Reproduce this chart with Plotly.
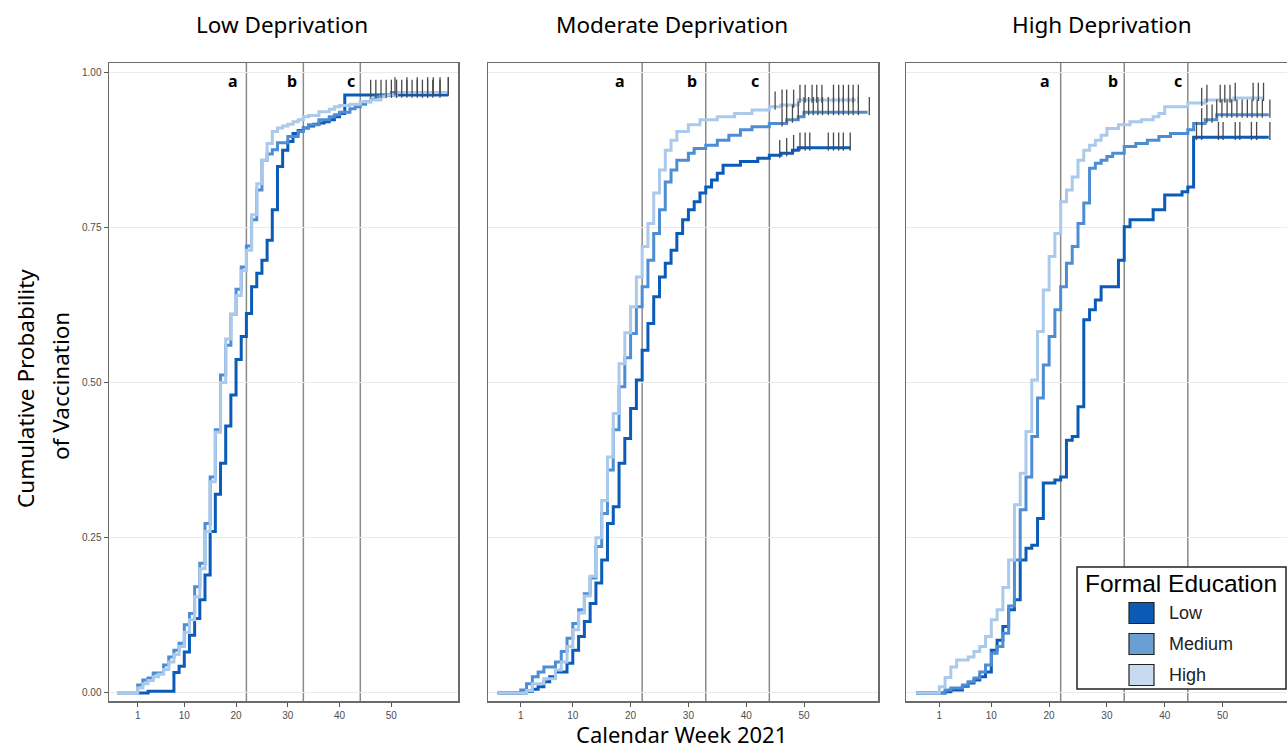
import numpy as np
import plotly.graph_objects as go

# ---------------- data ----------------
panel_titles = ["Low Deprivation", "Moderate Deprivation", "High Deprivation"]
education_levels = ["Low", "Medium", "High"]
x_tick_vals = [1, 10, 20, 30, 40, 50]
y_tick_vals = [0, 0.25, 0.5, 0.75, 1.0]
y_tick_text = ["0.00", "0.25", "0.50", "0.75", "1.00"]
period_weeks = [22, 33, 44]
period_labels = ["a", "b", "c"]

# Low Deprivation panel
ld_low_weeks = [1, 3, 8, 9, 10, 11, 12, 13, 14, 15, 16, 17, 18, 19, 20, 21, 22, 23, 24, 25, 26, 27, 28, 29, 30, 31, 32, 33, 34, 35, 36, 37, 38, 39, 40, 41, 61]
ld_low_prob = [0, 0.003, 0.033, 0.043, 0.066, 0.093, 0.12, 0.15, 0.19, 0.26, 0.32, 0.37, 0.43, 0.48, 0.537, 0.574, 0.611, 0.654, 0.676, 0.697, 0.729, 0.778, 0.848, 0.874, 0.888, 0.901, 0.906, 0.91, 0.913, 0.916, 0.918, 0.92, 0.923, 0.928, 0.933, 0.963, 0.963]
ld_med_weeks = [-3, 1, 2, 3, 4, 6, 7, 8, 9, 10, 11, 12, 13, 14, 15, 16, 17, 18, 19, 20, 21, 22, 23, 24, 25, 26, 27, 28, 30, 32, 33, 34, 36, 38, 39, 40, 42, 43, 44, 45, 46, 47, 48, 50, 61]
ld_med_prob = [0, 0.013, 0.021, 0.024, 0.032, 0.045, 0.058, 0.069, 0.08, 0.11, 0.128, 0.171, 0.209, 0.273, 0.348, 0.424, 0.512, 0.56, 0.61, 0.65, 0.686, 0.72, 0.762, 0.81, 0.858, 0.868, 0.875, 0.886, 0.896, 0.904, 0.91, 0.915, 0.923, 0.928, 0.931, 0.935, 0.941, 0.944, 0.948, 0.952, 0.956, 0.96, 0.963, 0.967, 0.967]
ld_high_weeks = [-3, 1, 2, 3, 4, 5, 6, 7, 8, 9, 10, 11, 12, 13, 14, 15, 16, 17, 18, 19, 20, 21, 22, 23, 24, 25, 26, 27, 28, 29, 30, 31, 32, 33, 34, 36, 38, 39, 40, 42, 44, 46, 48, 49, 51, 61]
ld_high_prob = [0, 0.008, 0.015, 0.02, 0.026, 0.03, 0.038, 0.05, 0.062, 0.075, 0.098, 0.118, 0.155, 0.2, 0.26, 0.34, 0.42, 0.5, 0.57, 0.61, 0.64, 0.68, 0.713, 0.77, 0.82, 0.858, 0.885, 0.904, 0.91, 0.913, 0.916, 0.92, 0.923, 0.928, 0.93, 0.936, 0.94, 0.944, 0.946, 0.948, 0.952, 0.955, 0.96, 0.963, 0.967, 0.967]
ld_low_censor = [46, 47, 48, 49, 50, 51, 52, 53, 54, 55, 56, 57, 58, 59.4]
ld_med_censor = [50.7, 53, 55, 57, 58.1, 61]
ld_high_censor = [59.4, 61]

# Moderate Deprivation panel
md_low_weeks = [-3, 2, 3, 4, 5, 6, 7, 9, 10, 11, 12, 13, 14, 15, 16, 17, 18, 19, 20, 21, 22, 23, 24, 25, 26, 27, 28, 29, 30, 31, 32, 33, 34, 35, 36, 39, 42, 44, 46, 48, 49, 58]
md_low_prob = [0, 0.003, 0.006, 0.01, 0.018, 0.026, 0.034, 0.048, 0.069, 0.091, 0.115, 0.144, 0.177, 0.214, 0.273, 0.30, 0.37, 0.41, 0.458, 0.504, 0.552, 0.595, 0.638, 0.67, 0.692, 0.713, 0.74, 0.762, 0.778, 0.791, 0.805, 0.815, 0.826, 0.837, 0.85, 0.856, 0.861, 0.866, 0.869, 0.874, 0.878, 0.878]
md_med_weeks = [-3, 1, 2, 3, 4, 5, 7, 8, 9, 10, 11, 12, 13, 14, 15, 16, 17, 18, 19, 20, 21, 22, 23, 24, 25, 26, 27, 28, 30, 31, 33, 35, 37, 39, 41, 44, 47, 49, 50, 61]
md_med_prob = [0, 0.005, 0.015, 0.026, 0.034, 0.042, 0.05, 0.067, 0.088, 0.112, 0.134, 0.16, 0.185, 0.236, 0.289, 0.359, 0.424, 0.493, 0.54, 0.579, 0.622, 0.654, 0.697, 0.74, 0.778, 0.823, 0.842, 0.858, 0.869, 0.877, 0.882, 0.89, 0.898, 0.907, 0.912, 0.917, 0.923, 0.928, 0.935, 0.935]
md_high_weeks = [-3, 2, 3, 5, 7, 8, 9, 10, 11, 12, 13, 14, 15, 16, 17, 18, 19, 20, 21, 22, 23, 24, 25, 26, 27, 28, 30, 32, 35, 38, 41, 44, 46, 49, 59]
md_high_prob = [0, 0.004, 0.015, 0.023, 0.037, 0.05, 0.075, 0.102, 0.129, 0.156, 0.188, 0.25, 0.31, 0.38, 0.45, 0.53, 0.58, 0.622, 0.67, 0.719, 0.756, 0.805, 0.842, 0.874, 0.89, 0.904, 0.915, 0.923, 0.928, 0.933, 0.939, 0.944, 0.947, 0.955, 0.955]
md_low_censor = [45.8, 47, 48.2, 49.3, 50.2, 51, 54.2, 55.1, 56, 56.8, 58]
md_med_censor = [46.2, 47, 48, 49, 50, 50.8, 51.6, 52.4, 53.2, 54.2, 55.1, 56, 56.8, 57.7, 58.5, 59.4, 61.3]
md_high_censor = [45, 46.2, 47, 48.2, 49.3, 50.2, 51.4, 52.2, 53.1, 55.1, 56, 56.8, 57.7, 58.5, 59.4]

# High Deprivation panel
hd_low_weeks = [-3, 2, 3, 5, 6, 7, 8, 9, 10, 11, 12, 13, 14, 15, 16, 17, 18, 19, 21, 22, 23, 24, 25, 26, 27, 28, 29, 32, 33, 34, 38, 40, 43, 44, 45, 58]
hd_low_prob = [0, 0.002, 0.005, 0.011, 0.016, 0.021, 0.026, 0.034, 0.069, 0.085, 0.107, 0.134, 0.15, 0.214, 0.233, 0.238, 0.281, 0.338, 0.343, 0.348, 0.407, 0.413, 0.461, 0.601, 0.617, 0.633, 0.654, 0.697, 0.751, 0.762, 0.778, 0.802, 0.807, 0.815, 0.895, 0.895]
hd_med_weeks = [-3, 2, 3, 5, 6, 7, 8, 9, 10, 11, 12, 13, 14, 15, 16, 17, 18, 19, 20, 21, 22, 23, 24, 25, 26, 27, 28, 29, 30, 31, 33, 35, 37, 39, 41, 44, 45, 47, 49, 58]
hd_med_prob = [0, 0.005, 0.008, 0.013, 0.018, 0.024, 0.034, 0.045, 0.064, 0.075, 0.096, 0.14, 0.214, 0.295, 0.348, 0.413, 0.475, 0.528, 0.574, 0.617, 0.654, 0.692, 0.719, 0.756, 0.789, 0.845, 0.853, 0.858, 0.864, 0.869, 0.88, 0.885, 0.89, 0.896, 0.901, 0.907, 0.917, 0.923, 0.931, 0.931]
hd_high_weeks = [-3, 1, 2, 3, 4, 6, 7, 8, 9, 10, 11, 12, 13, 14, 15, 16, 17, 18, 19, 20, 21, 22, 23, 24, 25, 26, 27, 28, 29, 30, 32, 34, 36, 38, 39, 40, 44, 47, 52, 57]
hd_high_prob = [0, 0.01, 0.025, 0.042, 0.053, 0.058, 0.067, 0.075, 0.091, 0.118, 0.134, 0.17, 0.214, 0.303, 0.354, 0.421, 0.504, 0.582, 0.649, 0.703, 0.74, 0.791, 0.81, 0.831, 0.858, 0.874, 0.882, 0.89, 0.898, 0.909, 0.915, 0.92, 0.923, 0.928, 0.933, 0.944, 0.95, 0.955, 0.958, 0.958]
hd_low_censor = [45.5, 46.4, 49.3, 50.1, 52.2, 53, 55, 55.9, 58.2]
hd_med_censor = [46.4, 47.3, 48.2, 49, 49.9, 50.8, 51.6, 52.5, 53.4, 54.3, 55.1, 56, 56.9, 58.2]
hd_high_censor = [46.4, 47.3, 49.6, 50.4, 51.3, 52.2, 55.3, 56.2, 57.1]

panels = [
    [(ld_low_weeks, ld_low_prob, ld_low_censor), (ld_med_weeks, ld_med_prob, ld_med_censor), (ld_high_weeks, ld_high_prob, ld_high_censor)],
    [(md_low_weeks, md_low_prob, md_low_censor), (md_med_weeks, md_med_prob, md_med_censor), (md_high_weeks, md_high_prob, md_high_censor)],
    [(hd_low_weeks, hd_low_prob, hd_low_censor), (hd_med_weeks, hd_med_prob, hd_med_censor), (hd_high_weeks, hd_high_prob, hd_high_censor)],
]

# ---------------- style / layout ----------------
W, H = 1287, 750
line_colors = ["#0a5cb8", "#4d8dd3", "#aac9eb"]
swatch_colors = ["#0b5bb5", "#6a9fd6", "#c6dbef"]
frame_color = "#6b6b6b"
x_domains_px = [(109, 458), (488, 878), (906, 1287)]
y_domain_px = (63, 701)
x_ranges = [(-4.54, 62.87), (-4.67, 62.8), (-4.76, 61.16)]
y_range = (-0.0129, 1.0145)
label_shift_px = [[-13, -11, -9], [-22, -14, -14], [-16, -11, -10]]
title_centers_px = [282, 672, 1102]
title_font = "Noto Sans"


def fx(p):
    return p / W


def fy(p):
    return 1 - p / H


def step_value(weeks, probs, w):
    i = int(np.searchsorted(np.array(weeks, dtype=float), w, side="right")) - 1
    return probs[max(i, 0)]


fig = go.Figure()
layout = {}
annotations = []
shapes = []

for k, panel in enumerate(panels):
    sfx = "" if k == 0 else str(k + 1)
    xa, ya = "x" + sfx, "y" + sfx
    for j, (weeks, probs, censor) in enumerate(panel):
        fig.add_trace(go.Scatter(
            x=weeks, y=probs, mode="lines", line=dict(color=line_colors[j], width=3, shape="hv"),
            xaxis=xa, yaxis=ya, showlegend=False, hoverinfo="skip"))
    for j, (weeks, probs, censor) in enumerate(panel):
        cy = [step_value(weeks, probs, c) + 0.010 for c in censor]
        fig.add_trace(go.Scatter(
            x=censor, y=cy, mode="markers",
            marker=dict(symbol="line-ns", size=13, line=dict(color="#4a4a4a", width=1.3)),
            xaxis=xa, yaxis=ya, showlegend=False, hoverinfo="skip"))

    d0, d1 = x_domains_px[k]
    layout["xaxis" + sfx] = dict(
        domain=[fx(d0), fx(d1)], range=list(x_ranges[k]), anchor=ya,
        tickmode="array", tickvals=x_tick_vals, ticks="outside", ticklen=4, tickcolor="#555555",
        tickfont=dict(family="Liberation Sans", size=10, color="#4d4d4d"),
        showgrid=False, zeroline=False, showline=True, linecolor=frame_color, linewidth=1.5,
        mirror=True, automargin=False, fixedrange=True)
    layout["yaxis" + sfx] = dict(
        domain=[fy(y_domain_px[1]), fy(y_domain_px[0])], range=list(y_range), anchor=xa,
        tickmode="array", tickvals=y_tick_vals, ticktext=y_tick_text,
        showticklabels=(k == 0), ticks="outside" if k == 0 else "", ticklen=4, tickcolor="#555555",
        tickfont=dict(family="Liberation Sans", size=10, color="#4d4d4d"),
        showgrid=True, gridcolor="#ebebeb", gridwidth=1, zeroline=False,
        showline=True, linecolor=frame_color, linewidth=1.5, mirror=(k < 2), automargin=False,
        fixedrange=True)

    for i, wk in enumerate(period_weeks):
        shapes.append(dict(type="line", xref=xa, yref=ya + " domain", x0=wk, x1=wk, y0=0, y1=1,
                           line=dict(color="#8a8a8a", width=1.5), layer="below"))
        annotations.append(dict(x=wk, y=0.9855, xref=xa, yref=ya, text="<b>%s</b>" % period_labels[i],
                                showarrow=False, xshift=label_shift_px[k][i], xanchor="center", yanchor="middle",
                                font=dict(family=title_font, size=16, color="black")))

    annotations.append(dict(x=fx(title_centers_px[k]), y=fy(25), xref="paper", yref="paper",
                            text=panel_titles[k], showarrow=False, xanchor="center", yanchor="middle",
                            font=dict(family=title_font, size=22.5, color="black")))

# axis titles
annotations.append(dict(x=fx(681), y=fy(734), xref="paper", yref="paper", text="Calendar Week 2021",
                        showarrow=False, xanchor="center", yanchor="middle",
                        font=dict(family=title_font, size=22, color="black")))
annotations.append(dict(x=fx(25), y=fy(389), xref="paper", yref="paper", text="Cumulative Probability",
                        showarrow=False, textangle=-90, xanchor="center", yanchor="middle",
                        font=dict(family=title_font, size=22.5, color="black")))
annotations.append(dict(x=fx(60), y=fy(386), xref="paper", yref="paper", text="of Vaccination",
                        showarrow=False, textangle=-90, xanchor="center", yanchor="middle",
                        font=dict(family=title_font, size=22.5, color="black")))

# legend (drawn manually)
shapes.append(dict(type="rect", xref="paper", yref="paper", x0=fx(1077), x1=fx(1286), y0=fy(689), y1=fy(567),
                   fillcolor="white", line=dict(color="#222222", width=1.5), layer="above"))
annotations.append(dict(x=fx(1181), y=fy(583), xref="paper", yref="paper", text="Formal Education",
                        showarrow=False, xanchor="center", yanchor="middle",
                        font=dict(family="Liberation Sans", size=24.5, color="black")))
row_y = [613, 644, 675]
for j, lvl in enumerate(education_levels):
    shapes.append(dict(type="rect", xref="paper", yref="paper", x0=fx(1129), x1=fx(1154),
                       y0=fy(row_y[j] + 10.5), y1=fy(row_y[j] - 10.5),
                       fillcolor=swatch_colors[j], line=dict(color="#222222", width=1.2), layer="above"))
    annotations.append(dict(x=fx(1167), y=fy(row_y[j]), xref="paper", yref="paper", text=lvl,
                            showarrow=False, xanchor="left", yanchor="middle",
                            font=dict(family="Liberation Sans", size=18, color="#222222")))

fig.update_layout(
    width=W, height=H, margin=dict(l=0, r=0, t=0, b=0),
    paper_bgcolor="white", plot_bgcolor="white", hovermode=False,
    showlegend=False, annotations=annotations, shapes=shapes, **layout)

fig.write_html("out.html", config={"displayModeBar": False, "staticPlot": True},
               post_script="document.body.style.margin='0';document.body.style.overflow='hidden';")
